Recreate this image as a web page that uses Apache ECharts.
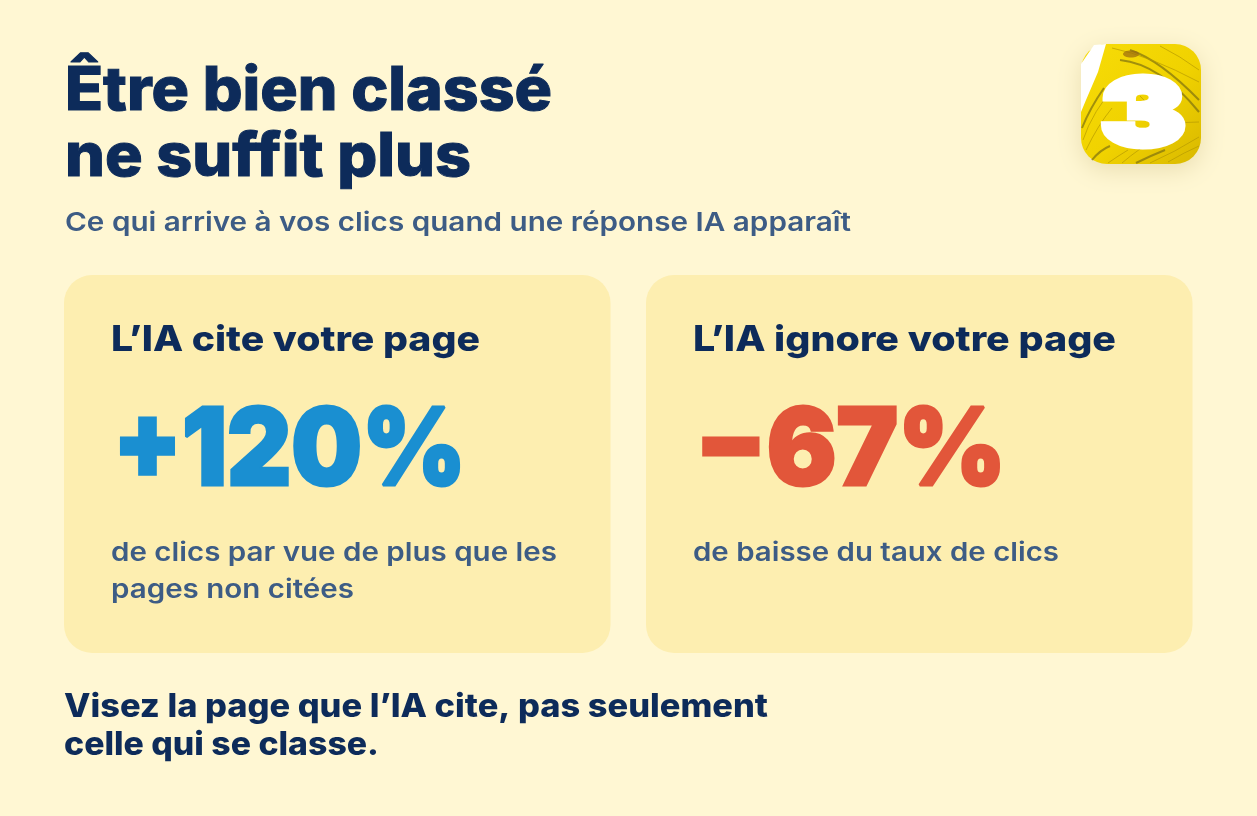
<!DOCTYPE html>
<html>
<head>
<meta charset="utf-8">
<style>html,body{margin:0;padding:0;background:#fff7d3}#chart{width:1257px;height:816px}</style>
<script src="https://cdn.jsdelivr.net/npm/echarts@6/dist/echarts.min.js"></script>
</head>
<body>
<div id="chart"></div>
<script>
const titleLines = ['Être bien classé', 'ne suffit plus'];
const subtitle = 'Ce qui arrive à vos clics quand une réponse IA apparaît';
const cardHeadings = ['L’IA cite votre page', 'L’IA ignore votre page'];
const statLabels = ['+120%', '−67%'];
const cardNotes = [['de clics par vue de plus que les', 'pages non citées'], ['de baisse du taux de clics']];
const footerLines = ['Visez la page que l’IA cite, pas seulement', 'celle qui se classe.'];

const FONT = 'Inter';
const NAVY = '#0d2b5a', SLATE = '#3d5c85', CARD = '#fdeeb0';
const statColors = ['#1a8fd1', '#e2563a'];

const ctx = document.createElement('canvas').getContext('2d');

// stretch the text to the width seen in the reference (Montserrat is not installed)
// base is the baseline, text is top aligned so the ascent gets taken off
function label(text, x, base, size, weight, color, width, bold) {
  ctx.font = weight + ' ' + size + 'px ' + FONT;
  const w = ctx.measureText(text).width;
  return {
    type: 'text', x: x, y: base - size * 0.8, scaleX: width / w, scaleY: 1, originX: 0, originY: 0,
    style: { text: text, x: 0, y: 0, font: weight + ' ' + size + 'px ' + FONT, fill: color, stroke: bold ? color : null, lineWidth: bold || 0 }
  };
}

const els = [];

// cards
[64, 646].forEach(function (x) {
  els.push({ type: 'rect', shape: { x: x, y: 275, width: 546.5, height: 378, r: 28 }, style: { fill: CARD } });
});

// logo
els.push({
  type: 'rect', shape: { x: 1081, y: 44, width: 120, height: 120, r: 26 },
  style: {
    fill: new echarts.graphic.LinearGradient(0, 0, 1, 1, [
      { offset: 0, color: '#f7dc08' }, { offset: 0.55, color: '#f0d200' }, { offset: 1, color: '#d9b800' }
    ]),
    shadowBlur: 24, shadowColor: 'rgba(120,90,0,0.16)', shadowOffsetY: 6
  }
});
els.push({ type: 'polygon', shape: { points: [[1094, 45], [1106, 44], [1098, 72], [1086, 100], [1081, 112], [1081, 64]] }, style: { fill: '#fff' } });
const streaks = [
  [1082, 128, 1090, 108, 1104, 88], [1083, 140, 1092, 112, 1118, 82], [1086, 150, 1098, 125, 1112, 108],
  [1092, 160, 1100, 150, 1110, 146], [1108, 163, 1118, 156, 1128, 150], [1122, 163, 1130, 156, 1140, 149],
  [1136, 163, 1150, 156, 1165, 150], [1150, 163, 1175, 152, 1199, 137], [1168, 162, 1185, 152, 1199, 146],
  [1130, 50, 1160, 60, 1199, 100], [1112, 48, 1150, 56, 1199, 82], [1160, 46, 1180, 56, 1199, 70],
  [1120, 60, 1160, 64, 1199, 112], [1146, 130, 1170, 122, 1199, 122], [1140, 96, 1150, 104, 1142, 112]
];
streaks.forEach(function (s, i) {
  els.push({
    type: 'bezierCurve',
    shape: { x1: s[0], y1: s[1], cpx1: s[2], cpy1: s[3], x2: s[4], y2: s[5] },
    style: { stroke: i % 3 === 0 ? '#7d7010' : '#b79a00', lineWidth: i % 3 === 0 ? 2 : 1, fill: null, opacity: 0.7 }
  });
});
els.push({ type: 'ellipse', shape: { cx: 1131, cy: 54, rx: 8, ry: 3.5 }, style: { fill: '#9a6a10', opacity: 0.7 } });
els.push(label('3', 1101, 145, 92, 900, '#fff', 84, 7));

// header
els.push(label(titleLines[0], 65, 110, 60, 800, NAVY, 487, 1));
els.push(label(titleLines[1], 65, 176, 60, 800, NAVY, 406, 1));
els.push(label(subtitle, 65, 231, 26, 600, SLATE, 786));

// card content
els.push(label(cardHeadings[0], 111, 351, 35, 800, NAVY, 369));
els.push(label(cardHeadings[1], 693, 351, 35, 800, NAVY, 423));
els.push(label(statLabels[0], 113, 485, 107, 900, statColors[0], 353, 3));
els.push(label(statLabels[1], 695, 485, 107, 900, statColors[1], 311, 3));
els.push(label(cardNotes[0][0], 111, 561, 26, 600, SLATE, 446));
els.push(label(cardNotes[0][1], 111, 598, 26, 600, SLATE, 243));
els.push(label(cardNotes[1][0], 693, 561, 26, 600, SLATE, 366));

// footer
els.push(label(footerLines[0], 64, 717, 32, 800, NAVY, 704));
els.push(label(footerLines[1], 64, 755, 32, 800, NAVY, 315));

const chart = echarts.init(document.getElementById('chart'));
chart.setOption({ backgroundColor: '#fff7d3', animation: false, graphic: { elements: els } });
</script>
</body>
</html>
